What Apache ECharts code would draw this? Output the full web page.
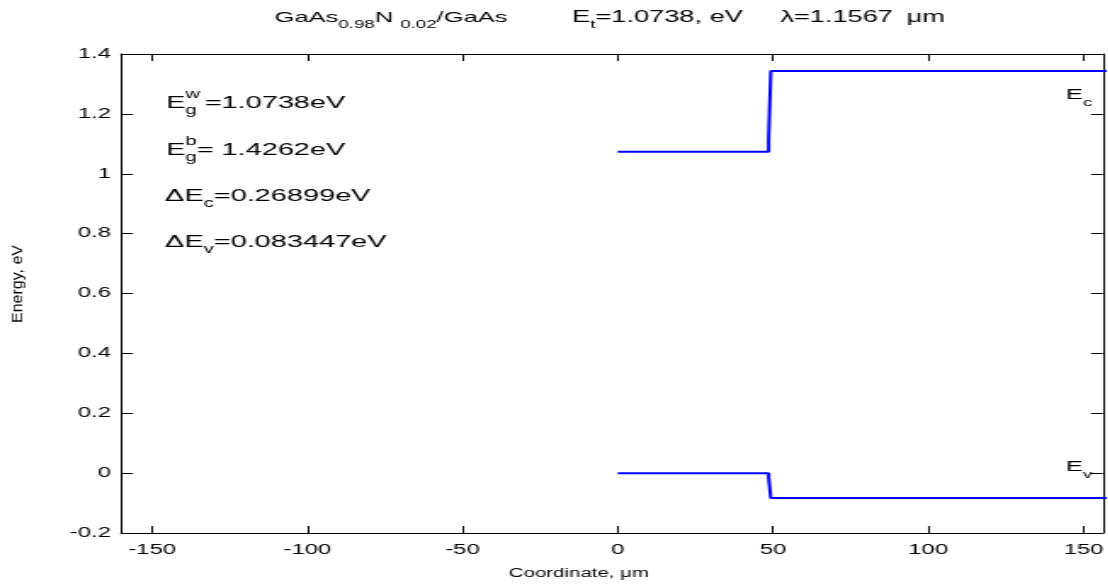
<!DOCTYPE html>
<html><head><meta charset="utf-8">
<script src="https://cdn.jsdelivr.net/npm/echarts@6/dist/echarts.min.js"></script>
<style>html,body{margin:0;padding:0;background:#fff;overflow:hidden;width:1108px;height:587px}
#c{width:651.76px;height:587px;transform:scaleX(1.7);transform-origin:0 0}</style>
</head><body><div id="c"></div>
<script>
// ---- data ----
const xTicks = [-150, -100, -50, 0, 50, 100, 150];
const yTicks = [-0.2, 0, 0.2, 0.4, 0.6, 0.8, 1, 1.2, 1.4];
const ecX = [0, 48.6, 48.6, 49.3, 49.3, 160];
const ecY = [1.0738, 1.0738, 1.117, 1.117, 1.3428, 1.3428];
const evX = [0, 48.6, 48.6, 49.3, 49.3, 160];
const evY = [0, 0, -0.014, -0.014, -0.0834, -0.0834];

const S = 1.7; // horizontal stretch of the reference picture
const FF = 'Liberation Sans, Arial, sans-serif';
const chart = echarts.init(document.getElementById('c'));
const pts = (xs, ys) => xs.map((x, i) => [x, ys[i]]);
const rich = {
  m: {fontSize: 17, fontFamily: FF, color: '#000', lineHeight: 28},
  sb: {fontSize: 12, fontFamily: FF, color: '#000', lineHeight: 13, verticalAlign: 'bottom'},
  sp: {fontSize: 12, fontFamily: FF, color: '#000', lineHeight: 13, verticalAlign: 'top'},
  M: {fontSize: 15, fontFamily: FF, color: '#000', lineHeight: 26},
  SB: {fontSize: 11, fontFamily: FF, color: '#000', lineHeight: 12, verticalAlign: 'bottom'}
};
function T(x, y, text) {
  return {type: 'text', x: x / S, y: y, style: {text: text, rich: rich, fontFamily: FF, fontSize: 17, fill: '#000', textVerticalAlign: 'middle', textAlign: 'left'}};
}
const tBase = {fontFamily: FF, color: '#000', fontWeight: 'normal'};
const titleRich = {
  a: Object.assign({fontSize: 15, lineHeight: 24}, tBase),
  b: Object.assign({fontSize: 16, lineHeight: 24}, tBase),
  s: Object.assign({fontSize: 11, lineHeight: 12, verticalAlign: 'bottom'}, tBase),
  g1: {fontSize: 14, width: 38, lineHeight: 24},
  g3: {fontSize: 14, width: 22, lineHeight: 24},
  g4: {fontSize: 14, width: 8, lineHeight: 24}
};
const axisBase = {
  type: 'value', min: -160, max: 156.3,
  axisLine: {show: true, onZero: false, lineStyle: {color: '#000', width: 1}},
  axisTick: {show: true, inside: true, length: 7, customValues: xTicks, lineStyle: {color: '#000'}},
  splitLine: {show: false}
};
chart.setOption({
  animation: false,
  backgroundColor: '#fff',
  title: {
    text: '{a|GaAs}{s|0.98}{a|N }{s|0.02}{a|/GaAs}{g1| }{b|E}{s|t}{b|=1.0738, eV}{g3| }{b|λ=1.1567}{g4| }{b|μm}',
    left: 266 / S, top: 1,
    textStyle: {rich: titleRich, fontSize: 15, fontFamily: FF, fontWeight: 'normal'}
  },
  grid: {left: 121 / S, top: 54, right: 0, height: 479, containLabel: false},
  xAxis: [
    Object.assign({}, axisBase, {
      position: 'bottom',
      axisLabel: {customValues: xTicks, color: '#000', fontSize: 14, fontFamily: FF, margin: 10},
      name: 'Coordinate, μm', nameLocation: 'middle', nameGap: 35,
      nameTextStyle: {color: '#000', fontSize: 12, fontFamily: FF, padding: [0, 39, 0, 0]}
    }),
    Object.assign({}, axisBase, {position: 'top', axisLabel: {show: false}})
  ],
  yAxis: [
    {type: 'value', min: -0.2, max: 1.4, interval: 0.2, position: 'left',
     axisLine: {show: true, onZero: false, lineStyle: {color: '#000'}},
     axisTick: {show: true, inside: true, length: 7, customValues: yTicks, lineStyle: {color: '#000'}},
     axisLabel: {customValues: yTicks, color: '#000', fontSize: 14, fontFamily: FF, margin: 6},
     splitLine: {show: false}},
    {type: 'value', min: -0.2, max: 1.4, interval: 0.2, position: 'right',
     axisLine: {show: true, onZero: false, lineStyle: {color: '#000'}},
     axisTick: {show: true, inside: true, length: 7, customValues: yTicks, lineStyle: {color: '#000'}},
     axisLabel: {show: false}, splitLine: {show: false}}
  ],
  series: [
    {type: 'line', name: 'Ec', data: pts(ecX, ecY), showSymbol: false, symbol: 'none',
     lineStyle: {color: '#0000ff', width: 2}, xAxisIndex: 0, yAxisIndex: 0},
    {type: 'line', name: 'Ev', data: pts(evX, evY), showSymbol: false, symbol: 'none',
     lineStyle: {color: '#0000ff', width: 2}, xAxisIndex: 0, yAxisIndex: 0}
  ],
  graphic: [
    {type: 'text', x: 18 / S, y: 284, rotation: Math.PI / 2, scaleY: 1 / S,
     style: {text: 'Energy, eV', fontFamily: FF, fontSize: 16, fill: '#000', textAlign: 'center', textVerticalAlign: 'middle'}},
    T(166, 103, '{m|E}{sb|g}{m| =1.0738eV}'),
    T(166 + 11.4 * S, 95, '{sp|w}'),
    T(166, 150, '{m|E}{sb|g}{m|= 1.4262eV}'),
    T(166 + 11.4 * S, 142, '{sp|b}'),
    T(165, 196, '{m|ΔE}{sb|c}{m|=0.26899eV}'),
    T(165, 242, '{m|ΔE}{sb|v}{m|=0.083447eV}'),
    T(1066, 95, '{M|E}{SB|c}'),
    T(1066, 467, '{M|E}{SB|v}')
  ]
});
</script></body></html>
